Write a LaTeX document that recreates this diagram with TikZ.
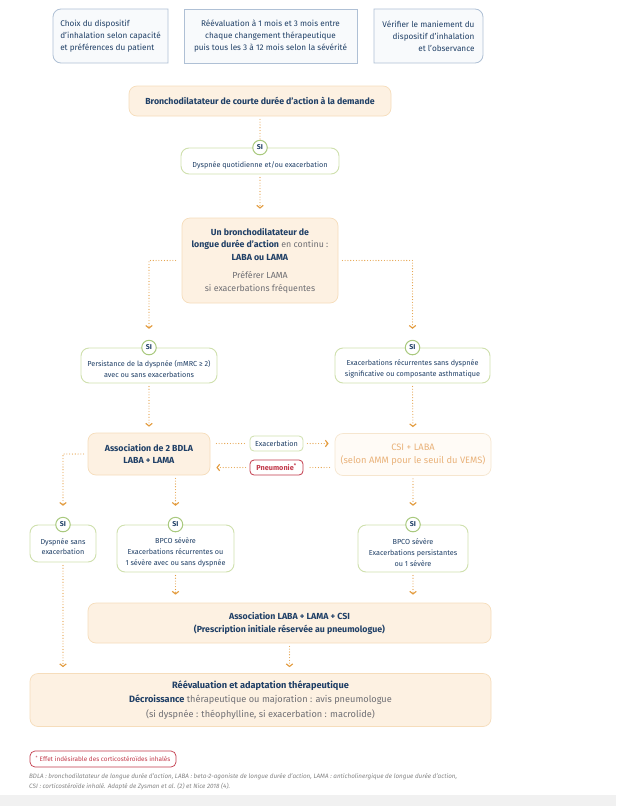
\documentclass[tikz,border=0pt]{standalone}
\usepackage{fontspec}
\setmainfont{Fira Sans}
\usetikzlibrary{arrows.meta,calc}
\definecolor{dblue}{HTML}{1F3F66}
\definecolor{tgray}{HTML}{6E6E73}
\definecolor{orng}{HTML}{E39B3D}
\definecolor{ofill}{HTML}{FDF1E2}
\definecolor{oborder}{HTML}{F6DDBB}
\definecolor{gborder}{HTML}{CFE0AD}
\definecolor{gcirc}{HTML}{A9C97E}
\definecolor{tborder}{HTML}{AFC0D5}
\definecolor{tfill}{HTML}{F8FAFC}
\definecolor{rred}{HTML}{C23A4B}
\definecolor{csitext}{HTML}{E9B27A}
\definecolor{csifill}{HTML}{FFFBF6}
\definecolor{csiborder}{HTML}{F6E6CF}
\definecolor{band}{HTML}{F1F1F1}
\definecolor{legtext}{HTML}{858585}
\newcommand\mystrut[1]{\rule{0pt}{#1}}
\begin{document}
\begin{tikzpicture}[x=1pt,y=-1pt,
  topbox/.style={minimum height=54pt, inner sep=0pt, text=dblue,
    font=\fontsize{8.2pt}{11.8pt}\selectfont},
  obox/.style={draw=oborder, fill=ofill, line width=0.7pt, rounded corners=8pt,
    text=dblue, align=center, inner sep=0pt, font=\fontsize{8.8pt}{12.8pt}\selectfont},
  gbox/.style={draw=gborder, fill=white, line width=0.9pt, rounded corners=8pt,
    text=dblue, align=center, inner sep=0pt, font=\fontsize{7.25pt}{10.8pt}\selectfont},
  sinode/.style={circle, draw=gcirc, fill=white, line width=1pt, minimum size=14.5pt,
    inner sep=0pt, text=dblue, font=\fontsize{7pt}{7pt}\selectfont\bfseries},
  tag/.style={draw=gborder, fill=white, line width=0.8pt, rounded corners=4pt,
    minimum width=53pt, minimum height=15pt, inner sep=0pt, text=dblue,
    font=\fontsize{7.3pt}{7.5pt}\selectfont},
  dotline/.style={draw=orng, line width=1.1pt, dash pattern=on 0pt off 2.8pt, line cap=round},
  dotarrow/.style={dotline, -{Straight Barb[length=2.6pt,width=6.5pt,line width=1.1pt]}}
]
\useasboundingbox (0,0) rectangle (616,806);
\fill[white] (0,0) rectangle (616,806);
\fill[band] (0,795) rectangle (616,806);

% top box outlines (drawn first, text nodes placed over them)
\coordinate (t1nw) at (53,9);  \coordinate (t1se) at (168,63);
\coordinate (t2nw) at (184,9); \coordinate (t2se) at (357,63);
\coordinate (t3nw) at (374,9); \coordinate (t3se) at (483,63);
\begin{scope}[draw=tborder, fill=tfill, line width=0.8pt]
\filldraw (61,9) -- (168,9) -- (168,63) -- (61,63)
  arc[start angle=270, end angle=180, radius=8pt] -- (53,17)
  arc[start angle=180, end angle=90, radius=8pt] -- cycle;
\filldraw (t2nw) rectangle (t2se);
\filldraw (475,9) -- (374,9) -- (374,63) -- (475,63)
  arc[start angle=270, end angle=360, radius=8pt] -- (483,17)
  arc[start angle=0, end angle=90, radius=8pt] -- cycle;
\end{scope}
\node[topbox, minimum width=115pt, align=left] (t1) at ($(t1nw)!0.5!(t1se)$)
  {Choix du dispositif\\d’inhalation selon capacité\\et préférences du patient};
\node[topbox, minimum width=173pt, align=center] (t2) at ($(t2nw)!0.5!(t2se)$)
  {Réévaluation à 1 mois et 3 mois entre\\chaque changement thérapeutique\\puis tous les 3 à 12 mois selon la sévérité};
\node[topbox, minimum width=109pt, align=right] (t3) at ($(t3nw)!0.5!(t3se)$)
  {Vérifier le maniement du\\dispositif d’inhalation\\et l’observance};

% main flow
\node[obox, minimum width=262pt, minimum height=30pt] (bcda) at (260,101)
  {\textbf{Bronchodilatateur de courte durée d’action à la demande}};
\node[gbox, minimum width=158pt, minimum height=26pt] (q1) at (260,161)
  {\mystrut{14pt}Dyspnée quotidienne et/ou exacerbation};
\node[sinode] (si1) at (q1.north) {SI};

\node[obox, minimum width=156pt, minimum height=85pt] (bdla) at (260,260.5)
  {\textbf{Un bronchodilatateur de}\\\textbf{longue durée d’action} {\color{tgray}en continu :}\\\textbf{LABA ou LAMA}\\[5pt]
   {\color{tgray}Préférer LAMA}\\{\color{tgray}si exacerbations fréquentes}};

\node[gbox, minimum width=136pt, minimum height=35pt] (p1) at (149,365.5)
  {\mystrut{13pt}Persistance de la dyspnée (mMRC ≥ 2)\\avec ou sans exacerbations};
\node[sinode] (si2) at (p1.north) {SI};
\node[gbox, minimum width=155pt, minimum height=35pt] (p2) at (412.5,365.5)
  {\mystrut{13pt}Exacerbations récurrentes sans dyspnée\\significative ou composante asthmatique};
\node[sinode] (si3) at (p2.north) {SI};

\node[obox, minimum width=122pt, minimum height=42pt] (assoc) at (149,454)
  {\textbf{Association de 2 BDLA}\\\textbf{LABA + LAMA}};
\node[obox, draw=csiborder, fill=csifill, text=csitext, minimum width=156pt, minimum height=42pt,
  font=\fontsize{9.3pt}{13.5pt}\selectfont] (csi) at (413,454.5)
  {CSI + LABA\\(selon AMM pour le seuil du VEMS)};

\node[tag] (exa) at (276.5,443.5) {Exacerbation};
\node[tag, draw=rred, text=rred, font=\fontsize{7.3pt}{7.5pt}\selectfont\bfseries] (pneu) at (276.5,467.5)
  {Pneumonie\textsuperscript{*}};

\node[gbox, minimum width=66pt, minimum height=37pt] (d1) at (63,543.5)
  {\mystrut{12pt}Dyspnée sans\\exacerbation};
\node[sinode] (si4) at (d1.north) {SI};
\node[gbox, minimum width=117pt, minimum height=47pt] (d2) at (175.5,548.5)
  {\mystrut{14pt}BPCO sévère\\Exacerbations récurrentes ou\\1 sévère avec ou sans dyspnée};
\node[sinode] (si5) at (d2.north) {SI};
\node[gbox, minimum width=110pt, minimum height=47pt] (d3) at (413,548.5)
  {\mystrut{14pt}BPCO sévère\\Exacerbations persistantes\\ou 1 sévère};
\node[sinode] (si6) at (d3.north) {SI};

\node[obox, minimum width=403pt, minimum height=40pt] (triple) at (289.5,623)
  {\textbf{Association LABA + LAMA + CSI}\\\textbf{(Prescription initiale réservée au pneumologue)}};

\node[obox, minimum width=461pt, minimum height=53pt, font=\fontsize{9.2pt}{14.8pt}\selectfont] (final) at (260.5,700)
  {\textbf{Réévaluation et adaptation thérapeutique}\\
   \textbf{Décroissance} {\color{tgray}thérapeutique ou majoration : avis pneumologue}\\
   {\color{tgray}(si dyspnée : théophylline, si exacerbation : macrolide)}};

% footnotes
\node[draw=rred, line width=0.7pt, rounded corners=5pt, minimum width=146pt, minimum height=16pt,
  inner sep=0pt, text=rred, font=\fontsize{6.4pt}{7pt}\selectfont] (note) at (103,759)
  {\textsuperscript{*} Effet indésirable des corticostéroïdes inhalés};
\node[anchor=north west, align=left, inner sep=0pt, text=legtext,
  font=\fontsize{6.3pt}{10pt}\selectfont\itshape] (legend) at (29,773.5)
  {BDLA : bronchodilatateur de longue durée d’action, LABA : beta-2-agoniste de longue durée d’action, LAMA : anticholinergique de longue durée d’action,\\
   CSI : corticostéroïde inhalé. Adapté de Zysman et al. (2) et Nice 2018 (4).};

% connectors
\draw[dotline, shorten <=3pt] (bcda.south) -- (si1.north);
\draw[dotarrow, shorten <=3pt, shorten >=9pt] (q1.south) -- (bdla.north);
\draw[dotarrow, shorten >=11pt] ([xshift=-6pt]bdla.west) -| (si2.north);
\draw[dotarrow, shorten >=11pt] ([xshift=4pt]bdla.east) -| (si3.north);
\draw[dotarrow, shorten <=3pt, shorten >=6pt] (p1.south) -- (assoc.north);
\draw[dotarrow, shorten <=3pt, shorten >=6pt] (p2.south) -- (csi.north);
\draw[dotline, shorten <=6pt, shorten >=4pt] (assoc.east |- exa.west) -- (exa.west);
\draw[dotarrow, shorten <=4pt, shorten >=6pt] (exa.east) -- (csi.west |- exa.east);
\draw[dotline, shorten <=5pt, shorten >=4pt] (csi.west |- pneu.east) -- (pneu.east);
\draw[dotarrow, shorten <=4pt, shorten >=6pt] (pneu.west) -- (assoc.east |- pneu.west);
\draw[dotarrow, shorten <=4pt, shorten >=11pt] (assoc.west) -| (si4.north);
\draw[dotarrow, shorten <=3pt, shorten >=11pt] (assoc.south -| si5.north) -- (si5.north);
\draw[dotarrow, shorten <=3pt, shorten >=11pt] (csi.south -| si6.north) -- (si6.north);
\draw[dotarrow, shorten <=3pt, shorten >=6pt] (d1.south) -- (final.north -| d1.south);
\draw[dotarrow, shorten <=3pt, shorten >=8pt] (d2.south) -- (triple.north -| d2.south);
\draw[dotarrow, shorten <=3pt, shorten >=8pt] (d3.south) -- (triple.north -| d3.south);
\draw[dotarrow, shorten <=3pt, shorten >=6pt] (triple.south) -- (final.north -| triple.south);
\end{tikzpicture}
\end{document}
